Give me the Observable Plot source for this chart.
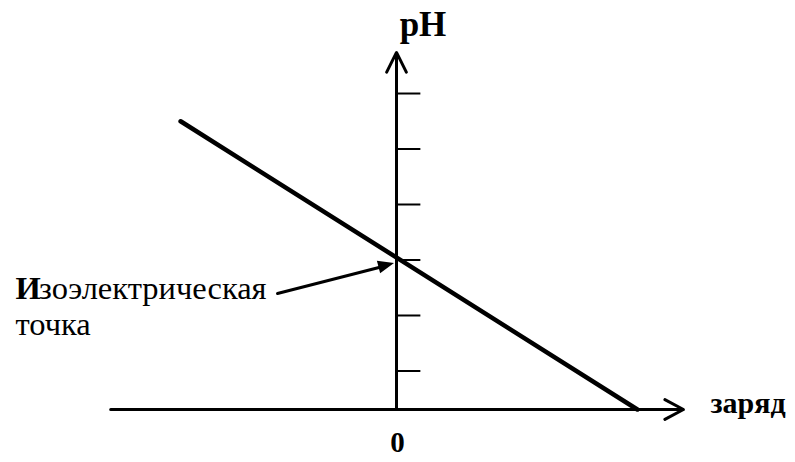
<!DOCTYPE html>
<html>
<head>
<meta charset="utf-8">
<script src="https://cdn.jsdelivr.net/npm/d3@7"></script>
<script src="https://cdn.jsdelivr.net/npm/@observablehq/plot@0.6"></script>
<style>
  html, body { margin: 0; padding: 0; background: #fff; }
  #chart svg { display: block; }
</style>
</head>
<body>
<div id="chart"></div>
<script>
// --- data (charge in arbitrary units, pH) ---
const lineCharge = [-3.89, 4.34];
const linePH = [5.5, 0.306];
const tickPH = [1, 2, 3, 4, 5, 6];
const tickLength = [0, 0.43];
const axisOriginPH = 0.306;
const xAxisExtent = [-5.15, 5.17];
const yAxisTop = 6.74;
const isoFrom = {x: -2.144, y: 2.396};
const isoTo = {x: -0.036, y: 2.937};
const yLabel = {text: "pH", x: 0.477, y: 7.045};
const xLabel = {text: "заряд", x: 5.658, y: 0.234};
const zeroLabel = {text: "0", x: 0.02, y: -0.468};
const isoLabelBold = {text: "И", x: -6.865, y: 2.306};
const isoLabelRest = {text: "зоэлектрическая", x: -6.865, y: 2.306};
const isoLabelLine2 = {text: "точка", x: -6.865, y: 1.64};

const serif = "Liberation Serif";

function isoHead(index, scales) {
  const x1 = scales.x(isoFrom.x), y1 = scales.y(isoFrom.y);
  const x2 = scales.x(isoTo.x), y2 = scales.y(isoTo.y);
  const a = Math.atan2(y2 - y1, x2 - x1);
  const L = 16, W = 6.5;
  const bx = x2 - L * Math.cos(a), by = y2 - L * Math.sin(a);
  const px = -Math.sin(a) * W, py = Math.cos(a) * W;
  return d3.create("svg:path")
    .attr("d", `M${x2},${y2}L${bx + px},${by + py}L${bx - px},${by - py}Z`)
    .attr("fill", "black")
    .node();
}

const chart = Plot.plot({
  width: 795,
  height: 462,
  margin: 0,
  x: {domain: [-7.135, 7.189], axis: null},
  y: {domain: [-0.649, 7.676], axis: null},
  style: {background: "white", overflow: "visible"},
  marks: [
    // y ticks
    Plot.link(tickPH, {x1: tickLength[0], x2: tickLength[1], y1: d => d, y2: d => d, stroke: "black", strokeWidth: 2}),
    // x axis with arrow
    Plot.arrow([0], {x1: xAxisExtent[0], x2: xAxisExtent[1], y1: axisOriginPH, y2: axisOriginPH,
      stroke: "black", strokeWidth: 3, headLength: 10.5, headAngle: 56}),
    // y axis with arrow
    Plot.arrow([0], {x1: 0, x2: 0, y1: axisOriginPH, y2: yAxisTop,
      stroke: "black", strokeWidth: 3, headLength: 11, headAngle: 53}),
    // main line
    Plot.line(lineCharge.map((c, i) => ({c, p: linePH[i]})), {x: "c", y: "p", stroke: "black", strokeWidth: 4.5}),
    // annotation arrow
    Plot.arrow([0], {x1: isoFrom.x, y1: isoFrom.y, x2: isoTo.x, y2: isoTo.y,
      stroke: "black", strokeWidth: 3, headLength: 0, insetEnd: 12}),
    isoHead,
    // labels
    Plot.text([yLabel], {x: "x", y: "y", text: "text", fontFamily: serif, fontWeight: "bold", fontSize: 35, textAnchor: "middle", lineAnchor: "bottom", fill: "black"}),
    Plot.text([xLabel], {x: "x", y: "y", text: "text", fontFamily: serif, fontWeight: "bold", fontSize: 30, textAnchor: "start", lineAnchor: "bottom", fill: "black"}),
    Plot.text([zeroLabel], {x: "x", y: "y", text: "text", fontFamily: serif, fontWeight: "bold", fontSize: 29, textAnchor: "middle", lineAnchor: "bottom", fill: "black"}),
    Plot.text([isoLabelBold], {x: "x", y: "y", text: "text", fontFamily: serif, fontWeight: "bold", fontSize: 32.5, textAnchor: "start", lineAnchor: "bottom", fill: "black"}),
    Plot.text([isoLabelRest], {x: "x", y: "y", text: "text", fontFamily: serif, fontSize: 32.5, textAnchor: "start", lineAnchor: "bottom", dx: 23.5, fill: "black"}),
    Plot.text([isoLabelLine2], {x: "x", y: "y", text: "text", fontFamily: serif, fontSize: 32.5, textAnchor: "start", lineAnchor: "bottom", fill: "black"})
  ]
});
document.getElementById("chart").appendChild(chart);
</script>
</body>
</html>
